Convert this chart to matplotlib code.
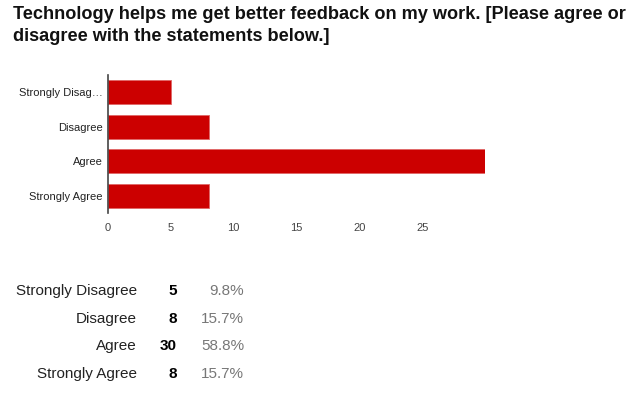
import matplotlib.pyplot as plt

# chart data
categories = ['Strongly Disagree', 'Disagree', 'Agree', 'Strongly Agree']
short_labels = ['Strongly Disag\u2026', 'Disagree', 'Agree', 'Strongly Agree']
counts = [5, 8, 30, 8]
percents = ['9.8%', '15.7%', '58.8%', '15.7%']
x_ticks = [0, 5, 10, 15, 20, 25]

title = ('Technology helps me get better feedback on my work. [Please agree or\n'
         'disagree with the statements below.]')

plt.rcParams['font.family'] = ['Liberation Sans', 'DejaVu Sans']

fig = plt.figure(figsize=(6.4, 3.97), dpi=100)
W, H = 640, 397

# axes placed in pixel terms: left 108, right ~485, top 75, bottom 213
ax = fig.add_axes([108 / W, 1 - 213 / H, (485 - 108) / W, (213 - 75) / H])
ypos = list(range(len(categories)))
ax.barh(ypos, counts, height=0.69, color='#cc0000', edgecolor='#e06666', linewidth=0.6)
ax.set_ylim(len(categories) - 0.5, -0.5)
ax.set_xlim(0, 30)
ax.set_xticks(x_ticks)
ax.set_xticklabels([str(t) for t in x_ticks], fontsize=8, color='#444444')
ax.set_yticks(ypos)
ax.set_yticklabels(short_labels, fontsize=8, color='#222222')
ax.tick_params(length=0, pad=4)
ax.tick_params(axis='x', pad=7)
for s in ['top', 'right', 'bottom']:
    ax.spines[s].set_visible(False)
ax.spines['left'].set_color('#444444')
ax.spines['left'].set_linewidth(1.2)

fig.text(13 / W, 1 - 6 / H, title, fontsize=13.1, fontweight='bold', color='#111111',
         ha='left', va='top', linespacing=1.4, multialignment='left')

# summary table below the chart
row_y = [291, 319, 346, 374]
for cat, n, pct, y in zip(categories, counts, percents, row_y):
    yy = 1 - y / H
    fig.text(137 / W, yy, cat, fontsize=11, color='#222222', ha='right', va='center')
    fig.text(177 / W, yy, str(n), fontsize=11, fontweight='bold', color='#000000',
             ha='right', va='center')
    fig.text(244 / W, yy, pct, fontsize=11, color='#777777', ha='right', va='center')

fig.savefig('out.png', dpi=100)
